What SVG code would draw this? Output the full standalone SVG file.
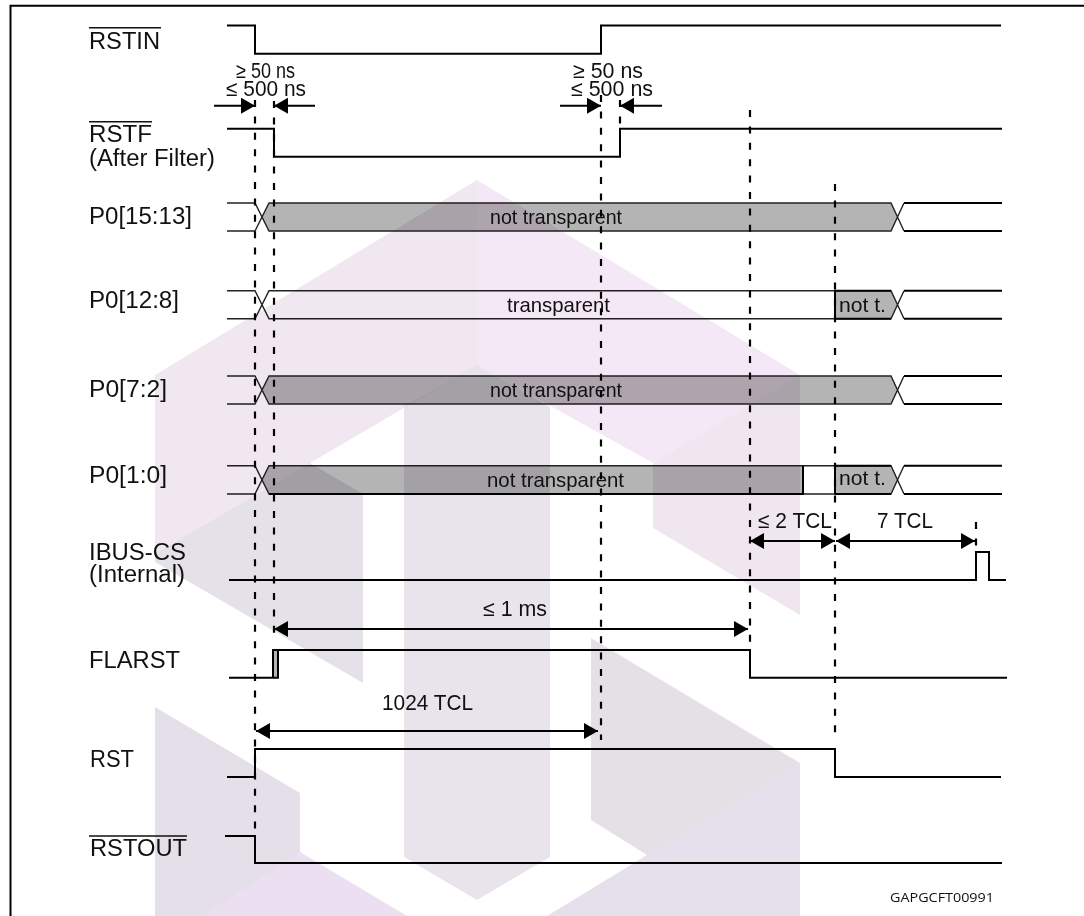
<svg xmlns="http://www.w3.org/2000/svg" width="1084" height="916" viewBox="0 0 1084 916">
<style>
text{font-family:"Liberation Sans",Arial,sans-serif;font-size:23px;fill:#111}
.s{font-size:21.5px}
.b{font-size:21px}
.id{font-family:"Open Sans","Liberation Sans",sans-serif;font-size:13.5px}
.sig{fill:none;stroke:#000;stroke-width:2}
.thin{fill:none;stroke:#222;stroke-width:1.4}
.band{fill:#b4b4b4;stroke:none}
.bar{fill:none;stroke:#111;stroke-width:1.6}
.dash{fill:none;stroke:#000;stroke-width:2.2;stroke-dasharray:7 9.4}
.dim{fill:none;stroke:#000;stroke-width:2;marker-end:url(#head);marker-start:url(#headr)}
.one{fill:none;stroke:#000;stroke-width:2;marker-end:url(#head)}
.wm{mix-blend-mode:multiply}
</style>
<defs>
<marker id="head" markerUnits="userSpaceOnUse" markerWidth="16" markerHeight="18" refX="14" refY="8" orient="auto"><path d="M0,0L14,8L0,16Z" fill="#000"/></marker>
<marker id="headr" markerUnits="userSpaceOnUse" markerWidth="16" markerHeight="18" refX="0" refY="8" orient="auto"><path d="M14,0L0,8L14,16Z" fill="#000"/></marker>
</defs>
<rect width="1084" height="916" fill="#fff"/>
<path id="frame" d="M10.5,916V5.7H1084" fill="none" stroke="#000" stroke-width="2"/>
<g id="bands-fill">
<path class="band" d="M262,217L269,203H891L897.7,217L891,231H269Z"/>
<path class="band" d="M835,290.7H891L897.7,304.7L891,318.7H835Z"/>
<path class="band" d="M262,390L269,376H891L897.7,390L891,404H269Z"/>
<path class="band" d="M262,480L269,465.7H803V494H269Z"/>
<path class="band" d="M835,465.7H891L897.7,480L891,494H835Z"/>
<rect class="band" x="273" y="650" width="5" height="28"/>
</g>
<g id="signal-rstin">
<text x="89" y="49" textLength="71" lengthAdjust="spacingAndGlyphs">RSTIN</text>
<path class="bar" d="M89,27.7H161"/>
<path class="sig" d="M227,25.5H255V53.7H601V25.5H1001"/>
</g>
<g id="signal-rstf">
<text x="89" y="142" textLength="63" lengthAdjust="spacingAndGlyphs">RSTF</text>
<path class="bar" d="M89,121.7H152"/>
<text x="89" y="165.7" textLength="126" lengthAdjust="spacingAndGlyphs">(After Filter)</text>
<path class="sig" d="M227,128.7H274V156.7H620V128.7H1002"/>
</g>
<g id="signal-p0-15-13">
<text x="89" y="224" textLength="103" lengthAdjust="spacingAndGlyphs">P0[15:13]</text>
<path class="thin" d="M227,203H255L269,231H891L904,203M227,231H255L269,203H891L904,231"/>
<path class="sig" d="M904,203H1002M904,231H1002"/>
<text class="b" x="490" y="224" textLength="132" lengthAdjust="spacingAndGlyphs">not transparent</text>
</g>
<g id="signal-p0-12-8">
<text x="89" y="308" textLength="90" lengthAdjust="spacingAndGlyphs">P0[12:8]</text>
<path class="thin" d="M227,290.7H255L269,318.7H891L904,290.7M227,318.7H255L269,290.7H891L904,318.7"/>
<path class="sig" d="M835,318.7V290.7H891M835,318.7H891M904,290.7H1002M904,318.7H1002"/>
<text class="b" x="507" y="312" textLength="103" lengthAdjust="spacingAndGlyphs">transparent</text>
<text class="b" x="839" y="312" textLength="47" lengthAdjust="spacingAndGlyphs">not t.</text>
</g>
<g id="signal-p0-7-2">
<text x="89" y="396.5" textLength="78" lengthAdjust="spacingAndGlyphs">P0[7:2]</text>
<path class="thin" d="M227,376H255L269,404H891L904,376M227,404H255L269,376H891L904,404"/>
<path class="sig" d="M904,376H1002M904,404H1002"/>
<text class="b" x="490" y="397" textLength="132" lengthAdjust="spacingAndGlyphs">not transparent</text>
</g>
<g id="signal-p0-1-0">
<text x="89" y="483" textLength="78" lengthAdjust="spacingAndGlyphs">P0[1:0]</text>
<path class="thin" d="M227,465.7H255L269,494H891L904,465.7M227,494H255L269,465.7H891L904,494"/>
<path class="sig" d="M269,494H803V465.7M835,494V465.7H891M835,494H891M904,465.7H1002M904,494H1002"/>
<text class="b" x="487" y="487" textLength="137" lengthAdjust="spacingAndGlyphs">not transparent</text>
<text class="b" x="839" y="485" textLength="47" lengthAdjust="spacingAndGlyphs">not t.</text>
</g>
<g id="signal-ibus-cs">
<text x="89" y="559.5" textLength="97" lengthAdjust="spacingAndGlyphs">IBUS-CS</text>
<text x="89" y="581.7" textLength="96" lengthAdjust="spacingAndGlyphs">(Internal)</text>
<path class="sig" d="M229,580H976V552H989V580H1006"/>
</g>
<g id="signal-flarst">
<text x="89" y="667.7" textLength="91" lengthAdjust="spacingAndGlyphs">FLARST</text>
<path class="sig" d="M229,677.7H278V650H273V677.7M273,650H750V677.7H1007"/>
</g>
<g id="signal-rst">
<text x="90" y="767" textLength="44" lengthAdjust="spacingAndGlyphs">RST</text>
<path class="sig" d="M227,777H255V749H835V777H1001"/>
</g>
<g id="signal-rstout">
<text x="90" y="856" textLength="97" lengthAdjust="spacingAndGlyphs">RSTOUT</text>
<path class="bar" d="M89,836H187"/>
<path class="sig" d="M225,836H255V863H1002"/>
</g>
<g id="connectors">
<path class="dash" d="M255,100V830"/>
<path class="dash" d="M274,101V640"/>
<path class="dash" d="M601,95V740"/>
<path class="dash" d="M620,100V128"/>
<path class="dash" d="M750,110V642"/>
<path class="dash" d="M835,184V740"/>
<path class="dash" d="M976,522V548"/>
<path class="one" d="M214,105.7H255"/>
<path class="one" d="M315,105.7H274"/>
<path class="one" d="M560,105.7H601"/>
<path class="one" d="M662,105.7H620"/>
<path class="dim" d="M750,541H835"/>
<path class="dim" d="M836,541H975"/>
<path class="dim" d="M274,629H748"/>
<path class="dim" d="M256,731H598"/>
</g>
<g id="labels">
<text class="s" x="236" y="77.7" textLength="59" lengthAdjust="spacingAndGlyphs">≥ 50 ns</text>
<text class="s" x="226" y="96" textLength="80" lengthAdjust="spacingAndGlyphs">≤ 500 ns</text>
<text class="s" x="573" y="77.7" textLength="70" lengthAdjust="spacingAndGlyphs">≥ 50 ns</text>
<text class="s" x="571" y="96" textLength="82" lengthAdjust="spacingAndGlyphs">≤ 500 ns</text>
<text class="s" x="758" y="528" textLength="74" lengthAdjust="spacingAndGlyphs">≤ 2 TCL</text>
<text class="s" x="877" y="528" textLength="56" lengthAdjust="spacingAndGlyphs">7 TCL</text>
<text class="s" x="483" y="616" textLength="64" lengthAdjust="spacingAndGlyphs">≤ 1 ms</text>
<text class="s" x="382" y="710" textLength="91" lengthAdjust="spacingAndGlyphs">1024 TCL</text>
<text class="id" x="890" y="901.7" textLength="104" lengthAdjust="spacingAndGlyphs">GAPGCFT00991</text>
</g>
<g id="watermark" class="wm">
<path class="wm" fill="#f0e7f0" d="M155,375L477,180V365L155,554Z"/>
<path class="wm" fill="#f5e8f6" d="M477,180L800,375L653,463L477,365Z"/>
<path class="wm" fill="#f0e6ef" d="M800,375V615L653,528V463Z"/>
<path class="wm" fill="#e9e4ec" d="M477,365L550,407V857L477,900L404,857V407Z"/>
<path class="wm" fill="#e5e1e8" d="M155,554L310,463L363,494V683L155,562Z"/>
<path class="wm" fill="#e4dfe9" d="M155,707L300,793V852L203,916H155Z"/>
<path class="wm" fill="#ecdff1" d="M300,852L407,916H203Z"/>
<path class="wm" fill="#e4e0e6" d="M591,638L800,763L647,855L591,820Z"/>
<path class="wm" fill="#e6e0ec" d="M800,763V916H547L647,855Z"/>
</g>
</svg>
